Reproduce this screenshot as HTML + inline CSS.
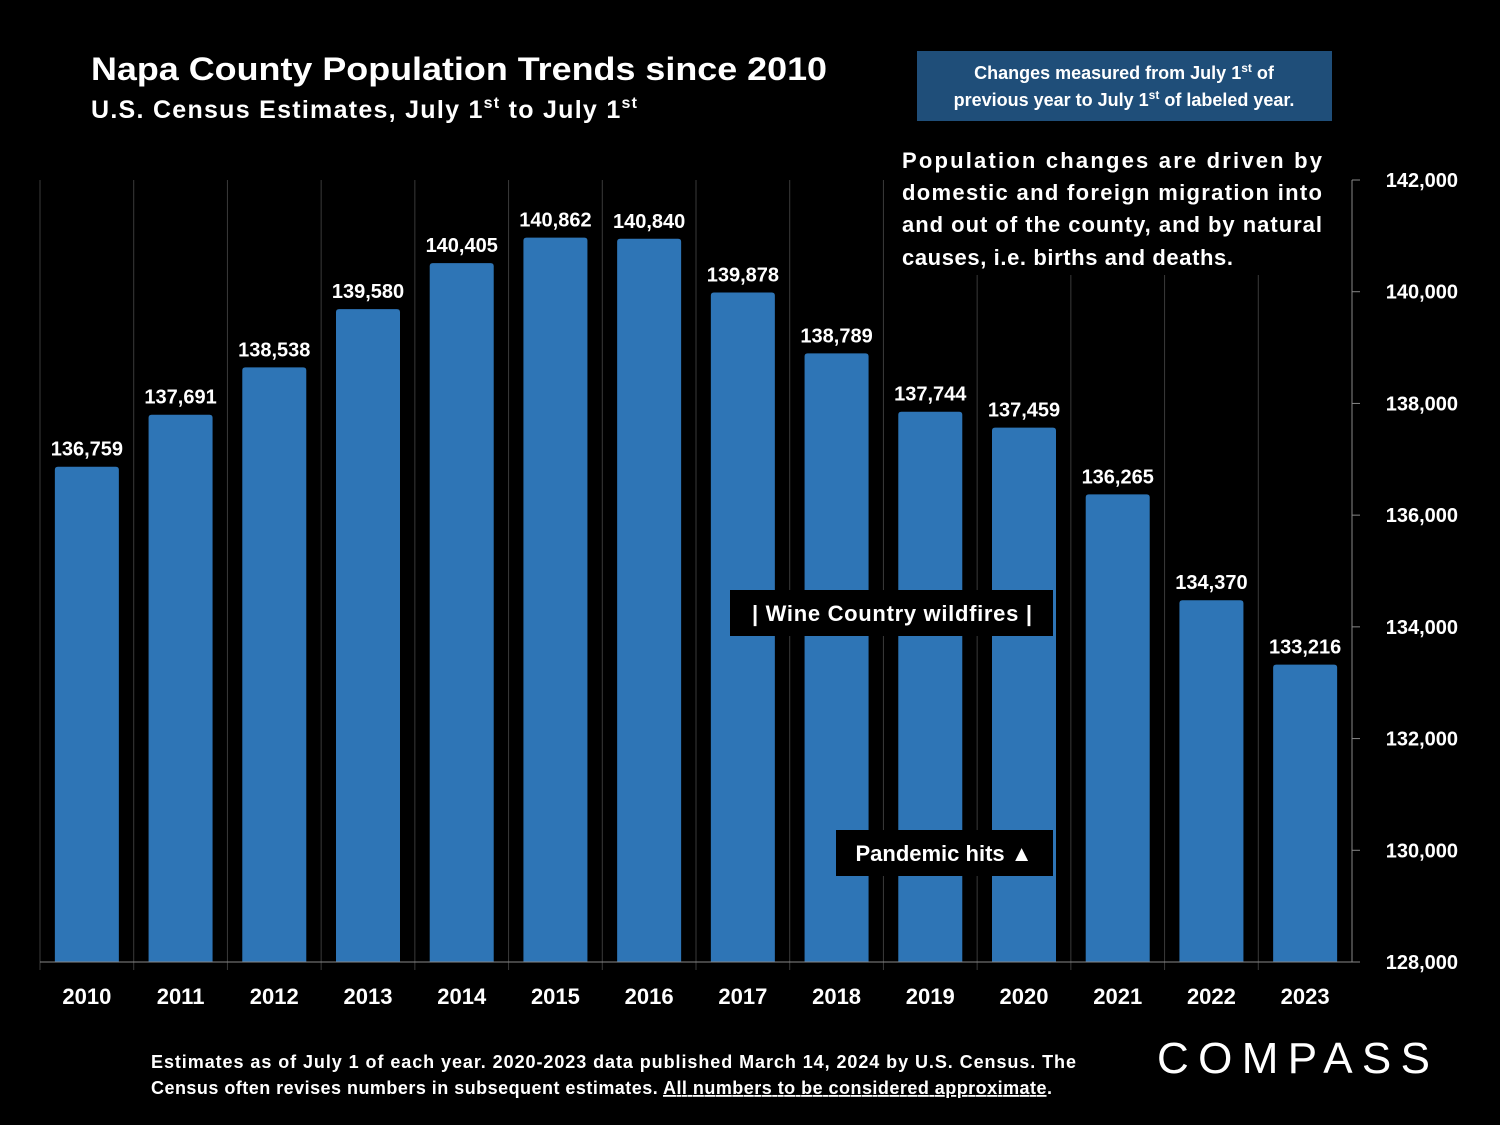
<!DOCTYPE html>
<html><head><meta charset="utf-8">
<style>
html,body{margin:0;padding:0;background:#000;}
svg{display:block;font-family:"Liberation Sans",sans-serif;}
</style></head>
<body>
<svg id="chart" width="1500" height="1125" viewBox="0 0 1500 1125" xmlns="http://www.w3.org/2000/svg">
<rect x="0" y="0" width="1500" height="1125" fill="#000"/>
<g>
<text x="91" y="80" fill="#fff" font-size="32" font-weight="bold" textLength="736" lengthAdjust="spacingAndGlyphs">Napa County Population Trends since 2010</text>
<text x="91" y="118" fill="#fff" font-size="25" font-weight="bold" textLength="546" lengthAdjust="spacing">U.S. Census Estimates, July 1<tspan font-size="16" dy="-10">st</tspan><tspan dy="10"> to July 1</tspan><tspan font-size="16" dy="-10">st</tspan></text>
</g>
<g id="grid"></g>
<g id="bars"></g>
<g id="labels"></g>
<g id="xaxis"></g>
<g id="yaxis"></g>

<g>
<rect x="917" y="51" width="415" height="70" fill="#1f4e79"/>
<text x="1124" y="79" fill="#fff" font-size="18" font-weight="bold" text-anchor="middle">Changes measured from July 1<tspan font-size="12" dy="-7">st</tspan><tspan dy="7"> of</tspan></text>
<text x="1124" y="106" fill="#fff" font-size="18" font-weight="bold" text-anchor="middle">previous year to July 1<tspan font-size="12" dy="-7">st</tspan><tspan dy="7"> of labeled year.</tspan></text>
</g>
<g>
<rect x="890" y="140" width="445" height="135" fill="#000"/>
<text x="902" y="168" fill="#fff" font-size="22" font-weight="bold" textLength="420" lengthAdjust="spacing">Population changes are driven by</text>
<text x="902" y="200" fill="#fff" font-size="22" font-weight="bold" textLength="420" lengthAdjust="spacing">domestic and foreign migration into</text>
<text x="902" y="232" fill="#fff" font-size="22" font-weight="bold" textLength="420" lengthAdjust="spacing">and out of the county, and by natural</text>
<text x="902" y="265" fill="#fff" font-size="22" font-weight="bold" textLength="331" lengthAdjust="spacing">causes, i.e. births and deaths.</text>
</g>
<g>
<rect x="730" y="590" width="323" height="46" fill="#000"/>
<text x="752" y="621" fill="#fff" font-size="22" font-weight="bold" textLength="280" lengthAdjust="spacing">|  Wine Country wildfires  |</text>
</g>
<g>
<rect x="836" y="830" width="217" height="46" fill="#000"/>
<text x="944" y="861" fill="#fff" font-size="22" font-weight="bold" text-anchor="middle">Pandemic hits ▲</text>
</g>
<g>
<text x="151" y="1068" fill="#fff" font-size="18" font-weight="bold" textLength="925" lengthAdjust="spacing">Estimates as of July 1 of each year. 2020-2023 data published March 14, 2024 by U.S. Census. The</text>
<text x="151" y="1094" fill="#fff" font-size="18" font-weight="bold" textLength="901" lengthAdjust="spacing">Census often revises numbers in subsequent estimates. <tspan text-decoration="underline">All numbers to be considered approximate</tspan>.</text>
</g>
<text x="1157" y="1073" fill="#fff" font-size="44" textLength="273" lengthAdjust="spacing">COMPASS</text>
</svg>
<script>
const categories = ["2010","2011","2012","2013","2014","2015","2016","2017","2018","2019","2020","2021","2022","2023"];
const populationValues = [136759,137691,138538,139580,140405,140862,140840,139878,138789,137744,137459,136265,134370,133216];
const yTicks = [128000,130000,132000,134000,136000,138000,140000,142000];
const yMin = 128000, yMax = 142000;

const NS = "http://www.w3.org/2000/svg";
const plotL = 40, plotR = 1352, plotT = 180, plotB = 962;
const band = (plotR - plotL) / categories.length;
function x(i){ return plotL + band * i + band / 2; }
function y(v){ return plotB - (v - yMin) / (yMax - yMin) * (plotB - plotT); }
function yBar(v){ return y(v) - 6; }
function mk(tag, attrs, parent){ const e = document.createElementNS(NS, tag); for (const k in attrs) e.setAttribute(k, attrs[k]); parent.appendChild(e); return e; }

const grid = document.getElementById("grid");
for (let i = 0; i <= categories.length; i++) {
  const gx = plotL + band * i;
  const l = mk("line", {x1: gx, x2: gx, y1: plotT, y2: plotB + (i < categories.length ? 8 : 0), stroke: "#3a3a3a", "stroke-width": 1}, grid);
  
  
}
const bars = document.getElementById("bars");
const labels = document.getElementById("labels");
const xaxis = document.getElementById("xaxis");
const bw = 64;
populationValues.forEach((v, i) => {
  const top = yBar(v);
  const b = mk("path", {d: `M${x(i)-bw/2},${plotB} V${top+3} Q${x(i)-bw/2},${top} ${x(i)-bw/2+3},${top} H${x(i)+bw/2-3} Q${x(i)+bw/2},${top} ${x(i)+bw/2},${top+3} V${plotB} Z`, fill: "#2e75b6"}, bars);
  
  
  const t = mk("text", {x: x(i), y: top - 11, fill: "#fff", "font-size": 20, "font-weight": "bold", "text-anchor": "middle"}, labels);
  t.textContent = v.toLocaleString("en-US");
  
  
  const c = mk("text", {x: x(i), y: 1004, fill: "#fff", "font-size": 22, "font-weight": "bold", "text-anchor": "middle"}, xaxis);
  c.textContent = categories[i];
  
  
});
const xl = mk("line", {x1: plotL, x2: plotR, y1: plotB, y2: plotB, stroke: "#888", "stroke-width": 1}, xaxis);



const yaxis = document.getElementById("yaxis");
const yl = mk("line", {x1: plotR, x2: plotR, y1: plotT, y2: plotB, stroke: "#888", "stroke-width": 1}, yaxis);


yTicks.forEach(t => {
  const tk = mk("line", {x1: plotR, x2: plotR + 8, y1: y(t), y2: y(t), stroke: "#888", "stroke-width": 1}, yaxis);
  
  
  const lb = mk("text", {x: 1458, y: y(t) + 7, fill: "#fff", "font-size": 20, "font-weight": "bold", "text-anchor": "end"}, yaxis);
  lb.textContent = t.toLocaleString("en-US");
  
  
});
</script>
</body></html>
